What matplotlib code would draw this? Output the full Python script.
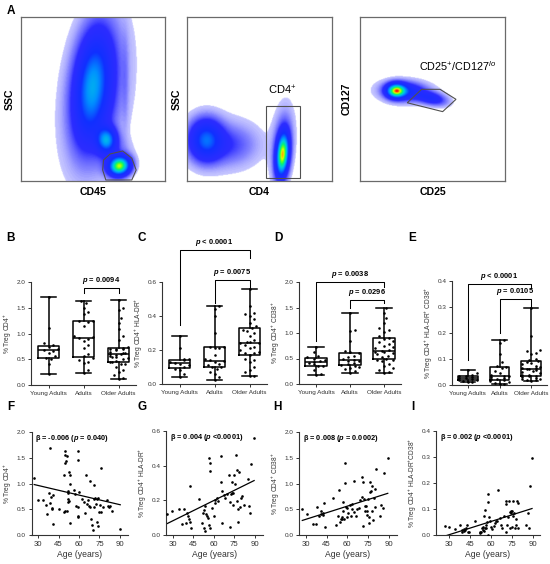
import numpy as np
import matplotlib
matplotlib.use('Agg')
import matplotlib.pyplot as plt
from matplotlib.colors import LinearSegmentedColormap
from matplotlib.patches import Polygon, Rectangle
from matplotlib.ticker import FormatStrFormatter

plt.rcParams['font.family'] = ['Liberation Sans', 'DejaVu Sans']
plt.rcParams['mathtext.fontset'] = 'custom'
plt.rcParams['mathtext.rm'] = 'Liberation Sans'
plt.rcParams['mathtext.it'] = 'Liberation Sans:italic'
plt.rcParams['mathtext.bf'] = 'Liberation Sans:bold'
plt.rcParams['mathtext.bfit'] = 'Liberation Sans:bold:italic'

# ---------------- data ----------------
groups = ['Young Adults', 'Adults', 'Older Adults']

treg_y = [1.70, 1.10, 0.82, 0.77, 0.73, 0.70, 0.68, 0.66, 0.62, 0.56, 0.52, 0.50, 0.40, 0.22]
treg_a = [1.63, 1.60, 1.50, 1.42, 1.38, 1.25, 1.24, 1.22, 1.15, 0.95, 0.93, 0.91, 0.90, 0.85,
          0.78, 0.72, 0.60, 0.56, 0.52, 0.48, 0.45, 0.42, 0.30, 0.23]
treg_o = [1.65, 1.50, 1.45, 1.30, 1.20, 1.08, 0.95, 0.87, 0.74, 0.71, 0.70, 0.70, 0.69, 0.67,
          0.65, 0.63, 0.62, 0.60, 0.60, 0.58, 0.56, 0.55, 0.54, 0.52, 0.50, 0.47, 0.45, 0.44,
          0.41, 0.40, 0.35, 0.30, 0.25, 0.20, 0.14, 0.11]

hladr_y = [0.28, 0.21, 0.15, 0.145, 0.14, 0.13, 0.125, 0.12, 0.11, 0.10, 0.09, 0.08, 0.06, 0.04]
hladr_a = [0.46, 0.44, 0.40, 0.30, 0.22, 0.22, 0.21, 0.21, 0.17, 0.15, 0.14, 0.135, 0.13, 0.12,
           0.11, 0.10, 0.10, 0.09, 0.07, 0.06, 0.04, 0.025]
hladr_o = [0.56, 0.46, 0.42, 0.41, 0.40, 0.38, 0.36, 0.34, 0.33, 0.32, 0.31, 0.30, 0.28, 0.26,
           0.25, 0.245, 0.24, 0.24, 0.23, 0.22, 0.21, 0.20, 0.19, 0.185, 0.18, 0.17, 0.15, 0.14,
           0.13, 0.10, 0.08, 0.07, 0.05, 0.045]

cd38_y = [0.73, 0.63, 0.55, 0.52, 0.50, 0.47, 0.45, 0.43, 0.42, 0.40, 0.36, 0.35, 0.27, 0.20, 0.17]
cd38_a = [1.39, 1.05, 1.03, 0.85, 0.64, 0.62, 0.60, 0.55, 0.52, 0.50, 0.47, 0.46, 0.45, 0.42,
          0.40, 0.38, 0.36, 0.34, 0.32, 0.30, 0.25, 0.21]
cd38_o = [1.50, 1.40, 1.30, 1.20, 1.10, 1.05, 1.02, 0.95, 0.90, 0.88, 0.85, 0.82, 0.78, 0.75,
          0.72, 0.70, 0.66, 0.64, 0.63, 0.62, 0.60, 0.58, 0.55, 0.52, 0.50, 0.48, 0.47, 0.45,
          0.40, 0.35, 0.32, 0.28, 0.23, 0.22]

dp_y = [0.057, 0.045, 0.038, 0.036, 0.033, 0.030, 0.028, 0.026, 0.024, 0.020, 0.018, 0.015, 0.012, 0.010]
dp_a = [0.175, 0.16, 0.12, 0.09, 0.075, 0.070, 0.065, 0.055, 0.045, 0.040, 0.035, 0.033, 0.030,
        0.028, 0.025, 0.022, 0.020, 0.015, 0.010, 0.008, 0.005, 0.002]
dp_o = [0.297, 0.19, 0.135, 0.13, 0.125, 0.12, 0.10, 0.095, 0.093, 0.09, 0.085, 0.08, 0.075,
        0.07, 0.066, 0.064, 0.062, 0.06, 0.058, 0.055, 0.05, 0.045, 0.04, 0.038, 0.036, 0.033,
        0.03, 0.028, 0.025, 0.022, 0.02, 0.018, 0.015]

age_f = [27.0, 29.6, 33.6, 35.6, 36.4, 38.0, 38.4, 38.8, 39.6, 40.0, 40.4, 41.0, 40.6,
         45.6, 48.6, 48.6, 49.6, 49.4, 49.6, 50.0, 50.4, 51.4, 52.6, 53.0, 51.6, 52.0,
         52.0, 52.4, 52.0, 51.4, 53.6, 53.4, 56.0, 57.0, 58.0, 59.0, 59.5, 59.5, 59.0,
         59.5, 60.0, 62.0, 63.5, 64.0, 65.0, 65.8, 66.6, 67.2, 67.8, 68.2, 68.8, 69.6,
         70.2, 71.2, 71.0, 72.0, 73.0, 73.6, 70.8, 72.8, 73.4, 74.0, 74.4, 75.4, 76.0,
         77.4, 76.5, 80.4, 81.4, 82.3, 84.3, 83.0, 90.3]
val_f = [1.10, 0.68, 0.68, 0.58, 0.41, 0.81, 0.62, 1.69, 0.73, 0.52, 0.51, 0.77, 0.21,
         0.51, 1.16, 0.45, 0.47, 1.64, 1.56, 1.40, 1.43, 1.53, 1.23, 1.17, 0.82, 0.86,
         0.69, 0.66, 0.64, 0.47, 0.23, 0.99, 0.88, 0.80, 0.57, 0.54, 1.64, 1.45, 0.36,
         0.34, 0.83, 0.70, 0.65, 0.42, 1.17, 0.60, 0.68, 0.57, 1.04, 0.54, 0.31, 0.19,
         0.10, 0.97, 0.70, 0.71, 0.69, 0.71, 0.54, 0.60, 0.25, 0.18, 0.44, 0.58, 0.45,
         0.54, 1.31, 0.67, 0.57, 0.54, 0.47, 0.56, 0.12]

age_g = [26.0, 29.3, 34.2, 36.6, 37.9, 39.8, 40.3, 41.0, 41.5, 42.3, 42.8, 43.5,
         48.9, 51.4, 52.1, 52.6, 53.1, 53.3, 53.8, 54.3, 55.0, 55.8, 56.3, 56.8, 57.5, 57.5, 57.5, 58.7,
         60.0, 60.5, 61.2, 62.4, 62.9, 64.9, 65.6, 66.1, 66.1, 67.3, 68.1, 69.8, 71.0, 71.5, 71.8,
         72.3, 73.0, 73.5, 74.2, 74.2, 74.7, 75.2, 75.9, 76.7, 77.2, 77.7, 77.9, 78.4, 78.9, 79.6,
         80.4, 82.0, 85.0, 85.8, 86.5, 87.5, 89.5]
val_g = [0.123, 0.136, 0.150, 0.066, 0.150, 0.070, 0.127, 0.108, 0.095, 0.076, 0.280, 0.042,
         0.210, 0.070, 0.127, 0.146, 0.042, 0.023, 0.165, 0.120, 0.108, 0.098, 0.060, 0.443, 0.417,
         0.370, 0.042, 0.155,
         0.108, 0.184, 0.203, 0.212, 0.197, 0.458, 0.307, 0.254, 0.070, 0.231, 0.216, 0.237, 0.348,
         0.193, 0.047, 0.237, 0.240, 0.303, 0.240, 0.174, 0.345, 0.297, 0.462, 0.373, 0.197, 0.152,
         0.074, 0.364, 0.159, 0.212, 0.225, 0.174, 0.322, 0.165, 0.127, 0.407, 0.557]

age_h = [27.4, 30.7, 35.5, 37.4, 37.9, 39.8, 41.0, 41.0, 42.1, 42.6, 43.3, 43.8,
         49.3, 51.7, 53.3, 54.0, 54.8, 55.2, 56.4, 56.4, 56.9, 57.1, 57.6, 58.1, 58.1, 58.8, 59.5,
         60.0, 60.7, 61.7, 62.4, 63.1, 63.6, 64.8, 65.2, 66.0, 67.1, 68.3, 69.5, 70.7, 70.7, 71.2,
         71.2, 71.9, 72.6, 73.1, 73.6, 74.3, 74.3, 75.0, 75.5, 76.0, 76.2, 76.7, 77.4, 77.9, 77.9,
         78.6, 79.0, 79.8, 80.2, 81.0, 83.8, 84.5, 85.5, 86.9, 89.3]
val_h = [0.51, 0.41, 0.21, 0.21, 0.55, 0.36, 0.47, 0.40, 0.43, 0.39, 0.62, 0.15,
         0.71, 0.20, 0.36, 0.88, 0.26, 0.31, 0.34, 0.31, 0.64, 0.46, 0.32, 1.40, 1.01, 0.54, 0.34,
         0.53, 0.43, 0.59, 0.36, 0.60, 0.51, 1.04, 0.44, 0.36, 0.51, 0.53, 0.67, 1.12, 0.73, 1.03,
         0.18, 0.70, 0.57, 0.46, 0.56, 0.38, 0.46, 0.69, 0.23, 0.34, 1.03, 0.84, 0.86, 0.96, 0.46,
         0.30, 0.71, 0.90, 0.54, 1.29, 0.36, 0.58, 0.53, 1.20, 1.49]

age_i = [27.1, 30.0, 34.3, 37.5, 39.2, 39.6, 40.4, 40.8, 41.6, 42.3, 42.8, 43.3, 44.0,
         48.8, 51.9, 52.4, 52.9, 53.6, 54.1, 54.3, 54.8, 55.3, 55.5, 56.0, 56.5, 56.7, 57.2, 57.7,
         57.7, 58.0, 58.4, 59.2,
         60.1, 60.8, 62.0, 62.5, 63.3, 64.5, 65.2, 66.4, 67.3, 68.1, 69.3, 70.5, 70.5, 71.0, 71.7,
         72.2, 72.9, 73.4, 73.6, 74.1, 74.6, 74.8, 75.3, 75.8, 76.0, 76.5, 77.0, 77.7, 78.2, 78.9,
         79.4, 79.6, 84.9, 86.1, 86.9, 88.1, 89.3]
val_i = [0.035, 0.030, 0.022, 0.039, 0.019, 0.013, 0.022, 0.015, 0.019, 0.026, 0.039, 0.010, 0.013,
         0.054, 0.006, 0.010, 0.013, 0.026, 0.032, 0.019, 0.075, 0.015, 0.028, 0.097, 0.026, 0.039,
         0.049, 0.157, 0.126, 0.001, 0.071, 0.052,
         0.032, 0.023, 0.036, 0.045, 0.054, 0.054, 0.174, 0.065, 0.039, 0.026, 0.075, 0.132, 0.119,
         0.013, 0.039, 0.071, 0.132, 0.090, 0.026, 0.084, 0.093, 0.032, 0.094, 0.075, 0.129, 0.084,
         0.026, 0.039, 0.062, 0.132, 0.123, 0.026, 0.039, 0.084, 0.028, 0.187, 0.297]

reg_slope = [-0.0062, 0.0039, 0.0085, 0.0017]
reg_intercept = [1.147, -0.035, 0.05, -0.050]
reg_text = ['β = -0.006 ($\\mathbfit{p}$ = 0.040)', 'β = 0.004 ($\\mathbfit{p}$ <0.0001)',
            'β = 0.008 ($\\mathbfit{p}$ = 0.0002)', 'β = 0.002 ($\\mathbfit{p}$ <0.0001)']

# flow-cytometry density components: (cx, cy, sx, sy, angle, weight)
flow1 = [(0.49, 0.58, 0.07, 0.19, -6, 0.38), (0.51, 0.56, 0.10, 0.25, -8, 0.22),
         (0.54, 0.52, 0.16, 0.34, -10, 0.025),
         (0.59, 0.25, 0.042, 0.048, 0, 0.55), (0.68, 0.09, 0.045, 0.035, 10, 1.0),
         (0.72, 0.60, 0.015, 0.20, 0, 0.03), (0.64, 0.15, 0.07, 0.07, 0, 0.08)]
flow2 = [(0.13, 0.25, 0.07, 0.075, 0, 0.42), (0.28, 0.22, 0.12, 0.075, 0, 0.09),
         (0.22, 0.23, 0.20, 0.13, 0, 0.02),
         (0.66, 0.16, 0.026, 0.080, -5, 1.0), (0.66, 0.22, 0.045, 0.14, -5, 0.10)]
flow3 = [(0.25, 0.55, 0.040, 0.026, 0, 1.0), (0.31, 0.548, 0.085, 0.033, -3, 0.30),
         (0.49, 0.505, 0.065, 0.024, -10, 0.22), (0.32, 0.54, 0.17, 0.06, 0, 0.02)]

# ---------------- figure ----------------
W, H = 550, 564
fig = plt.figure(figsize=(W / 100, H / 100), dpi=100)


def px_axes(x0, y0, x1, y1):
    return fig.add_axes([x0 / W, 1 - y1 / H, (x1 - x0) / W, (y1 - y0) / H])


def density(comps, n=240):
    g = np.linspace(0, 1, n)
    X, Y = np.meshgrid(g, g)
    Z = np.zeros_like(X)
    for cx, cy, sx, sy, ang, w in comps:
        a = np.deg2rad(ang)
        dx, dy = X - cx, Y - cy
        u = dx * np.cos(a) + dy * np.sin(a)
        v = -dx * np.sin(a) + dy * np.cos(a)
        Z += w * np.exp(-0.5 * ((u / sx) ** 2 + (v / sy) ** 2))
    return Z


flow_cmap = LinearSegmentedColormap.from_list('flow', [
    (0.0, '#dadaff'), (0.04, '#8484ff'), (0.10, '#2c2cff'), (0.30, '#1030ff'),
    (0.45, '#0090ff'), (0.58, '#00cde0'), (0.70, '#00f080'), (0.80, '#60ff20'),
    (0.88, '#e0ff00'), (0.94, '#ffa000'), (1.0, '#ff1000')])
flow_cmap.set_bad('white')


def flow_panel(rect, comps, vmax_frac, xlabel, ylabel, ypad=4):
    ax = px_axes(*rect)
    Z = density(comps)
    Z = Z / (Z.max() / vmax_frac)
    Zm = np.ma.masked_less(Z, 0.01)
    ax.imshow(Zm, extent=[0, 1, 0, 1], origin='lower', cmap=flow_cmap, vmin=0, vmax=1,
              interpolation='bilinear', aspect='auto')
    ax.set_xlim(0, 1)
    ax.set_ylim(0, 1)
    ax.set_xticks([])
    ax.set_yticks([])
    for s in ax.spines.values():
        s.set_color('#6a6a6a')
        s.set_linewidth(0.9)
    ax.set_xlabel(xlabel, fontsize=7.6, fontweight='bold', labelpad=4)
    ax.set_ylabel(ylabel, fontsize=7.6, fontweight='bold', labelpad=ypad)
    return ax


ax1 = flow_panel((20.7, 17, 165, 181), flow1, 0.86, 'CD45', 'SSC')
ax1.add_patch(Polygon([(0.574, 0.128), (0.62, 0.165), (0.707, 0.183), (0.77, 0.139),
                       (0.80, 0.067), (0.77, 0.006), (0.59, 0.006), (0.568, 0.067)],
                      closed=True, fill=False, edgecolor='#505050', lw=0.8))

ax2 = flow_panel((187, 17, 332, 181), flow2, 0.93, 'CD4', 'SSC')
ax2.add_patch(Rectangle((0.545, 0.02), 0.235, 0.437, fill=False, edgecolor='#505050', lw=0.8))
ax2.text(0.66, 0.51, 'CD4$^{+}$', fontsize=8, ha='center', va='bottom')

ax3 = flow_panel((360, 17, 505, 181), flow3, 1.0, 'CD25', 'CD127', ypad=6)
ax3.add_patch(Polygon([(0.326, 0.477), (0.425, 0.559), (0.552, 0.559), (0.662, 0.498),
                       (0.57, 0.423)], closed=True, fill=False, edgecolor='#505050', lw=0.8))
ax3.text(0.405, 0.70, 'CD25$^{+}$/CD127$^{lo}$', fontsize=7.8, ha='left', va='center')

TICKC = '#333333'


def style_axes(ax):
    for s in ['top', 'right']:
        ax.spines[s].set_visible(False)
    for s in ['left', 'bottom']:
        ax.spines[s].set_color('#333333')
        ax.spines[s].set_linewidth(0.8)
    ax.tick_params(labelsize=4.6, length=2.5, width=0.7, colors=TICKC, pad=1.5)


def swarm_offsets(vals, ypx, xpx, cx=4.6, cy=5.5, maxw=10.0):
    """simple beeswarm layout computed in pixel space"""
    vals = np.asarray(vals, float)
    order = np.argsort(vals)
    placed = []
    offs = np.zeros(len(vals))
    steps = [0]
    for k in range(1, 40):
        steps += [k, -k]
    for n, i in enumerate(order):
        y = vals[i] * ypx
        x = 0.0
        ok = False
        for s in steps:
            x = s * cx * 0.5
            if abs(x) > maxw:
                break
            if all(((x - px) / cx) ** 2 + ((y - py) / cy) ** 2 >= 1 for px, py in placed):
                ok = True
                break
        if not ok:
            x = ((n * 3) % 9 - 4) * maxw / 4.5
        placed.append((x, y))
        offs[i] = x / xpx
    return offs


def bracket(ax, x1, x2, y, yb1, yb2, txt):
    ax.plot([x1, x1, x2, x2], [yb1, y, y, yb2], color='black', lw=0.75, clip_on=False)
    ax.annotate(txt, xy=((x1 + x2) / 2, y), xytext=(0, 1.5), textcoords='offset points',
                ha='center', va='bottom', fontsize=5.4, fontweight='bold', annotation_clip=False)


def box_panel(rect, data, ylim, yticks, ylabel, brackets):
    ax = px_axes(*rect)
    style_axes(ax)
    ax.boxplot(data, positions=[1, 2, 3], widths=0.62, whis=(0, 100), showfliers=False,
               capwidths=0.45,
               boxprops=dict(color='black', lw=1.1), whiskerprops=dict(color='black', lw=1.1),
               capprops=dict(color='black', lw=1.1), medianprops=dict(color='black', lw=1.1))
    ax.set_xlim(0.5, 3.5)
    ax.set_ylim(*ylim)
    wpx = rect[2] - rect[0]
    hpx = rect[3] - rect[1]
    for k, vals in enumerate(data):
        offs = swarm_offsets(vals, hpx / (ylim[1] - ylim[0]), wpx / 3.0)
        ax.scatter(np.full(len(vals), k + 1.0) + offs, vals, s=3.4, c='black',
                   linewidths=0, zorder=3, clip_on=False)
    ax.set_xticks([1, 2, 3])
    ax.set_xticklabels(groups)
    ax.set_yticks(yticks)
    ax.yaxis.set_major_formatter(FormatStrFormatter('%.1f'))
    ax.set_ylabel(ylabel, fontsize=4.8, color=TICKC, labelpad=2)
    for b in brackets:
        bracket(ax, *b)
    return ax


P = '$\\mathbfit{p}$'
box_panel((31, 282, 136, 385), [treg_y, treg_a, treg_o], (0, 2.0), [0, 0.5, 1.0, 1.5, 2.0],
          '% Treg CD4$^{+}$', [(2, 3, 1.88, 1.79, 1.79, P + ' = 0.0094')])
box_panel((162, 282, 267, 384), [hladr_y, hladr_a, hladr_o], (0, 0.6), [0, 0.2, 0.4, 0.6],
          '% Treg CD4$^{+}$ HLA-DR$^{+}$',
          [(1, 3, 0.79, 0.35, 0.74, P + ' < 0.0001'), (2, 3, 0.612, 0.476, 0.57, P + ' = 0.0075')])
box_panel((299, 282, 401, 384), [cd38_y, cd38_a, cd38_o], (0, 2.0), [0, 0.5, 1.0, 1.5, 2.0],
          '% Treg CD4$^{+}$ CD38$^{+}$',
          [(1, 3, 2.0, 0.85, 1.9, P + ' = 0.0038'), (2, 3, 1.65, 1.50, 1.59, P + ' = 0.0296')])
box_panel((452, 281, 547, 385), [dp_y, dp_a, dp_o], (0, 0.4), [0, 0.1, 0.2, 0.3, 0.4],
          '% Treg CD4$^{+}$ HLA-DR$^{+}$ CD38$^{+}$',
          [(1, 3, 0.39, 0.096, 0.375, P + ' < 0.0001'), (2, 3, 0.329, 0.20, 0.305, P + ' = 0.0105')])


def scatter_panel(rect, ages, vals, xlim, ylim, yticks, ylabel, k):
    ax = px_axes(*rect)
    style_axes(ax)
    ax.scatter(ages, vals, s=3.6, c='black', linewidths=0, zorder=3)
    xs = np.array([min(ages), max(ages)])
    ax.plot(xs, reg_intercept[k] + reg_slope[k] * xs, color='black', lw=0.9)
    ax.set_xlim(*xlim)
    ax.set_ylim(*ylim)
    ax.set_xticks([30, 45, 60, 75, 90])
    ax.set_yticks(yticks)
    ax.yaxis.set_major_formatter(FormatStrFormatter('%.1f'))
    ax.tick_params(axis='x', labelsize=5.6)
    ax.set_ylabel(ylabel, fontsize=4.8, color=TICKC, labelpad=2)
    ax.set_xlabel('Age (years)', fontsize=6.2, color=TICKC, labelpad=1.5)
    ax.text(0.04, 0.94, reg_text[k], transform=ax.transAxes, fontsize=5.3, fontweight='bold',
            ha='left', va='center')
    return ax


scatter_panel((31.5, 432, 128, 535), age_f, val_f, (25, 96), (0, 2.0), [0, 0.5, 1.0, 1.5, 2.0],
              '% Treg CD4$^{+}$', 0)
scatter_panel((166, 431, 263, 535), age_g, val_g, (25, 96), (0, 0.6), [0, 0.2, 0.4, 0.6],
              '% Treg CD4$^{+}$ HLA-DR$^{+}$', 1)
scatter_panel((299, 432, 397, 535), age_h, val_h, (25, 96), (0, 2.0), [0, 0.5, 1.0, 1.5, 2.0],
              '% Treg CD4$^{+}$ CD38$^{+}$', 2)
scatter_panel((436, 431, 540, 535), age_i, val_i, (20.7, 95), (0, 0.4), [0, 0.1, 0.2, 0.3, 0.4],
              '% Treg CD4$^{+}$ HLA-DR$^{+}$CD38$^{+}$', 3)

# panel letters
letters = [('A', 7, 11), ('B', 6, 238), ('C', 137, 238), ('D', 274, 238), ('E', 408, 238),
           ('F', 7, 407), ('G', 137, 407), ('H', 273, 407), ('I', 411, 407)]
for t, x, y in letters:
    fig.text(x / W, 1 - y / H, t, fontsize=8.5, fontweight='bold', ha='left', va='center')

fig.savefig('out.png', dpi=100)
